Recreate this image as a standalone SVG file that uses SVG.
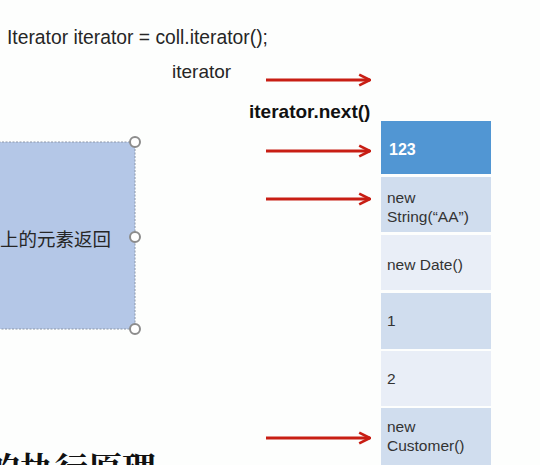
<svg xmlns="http://www.w3.org/2000/svg" width="540" height="465" viewBox="0 0 540 465">
<defs>
<style>
.t{font-family:"Liberation Sans",Arial,sans-serif;fill:#262626}
.c{font-size:15.5px;fill:#333}
.cjk{font-family:"Liberation Sans","Noto Sans CJK SC",sans-serif;fill:#262626}
.arr{stroke:#c81e14;stroke-width:3;fill:none}
.dark{fill:#d0ddee}
.light{fill:#e9eef7}
.h{fill:#fff;stroke:#8c8c8c;stroke-width:2}
</style>
<marker id="ah" viewBox="0 0 10 10" refX="9" refY="5" markerWidth="4.5" markerHeight="4.5" orient="auto" markerUnits="strokeWidth">
<path d="M1,1 L9,5 L1,9" fill="none" stroke="#c81e14" stroke-width="2" stroke-linejoin="miter"/>
</marker>
</defs>
<rect width="540" height="465" fill="#fdfefd"/>
<text class="t" x="7" y="44" font-size="19.3">Iterator iterator = coll.iterator();</text>
<text class="t" x="172" y="78" font-size="19">iterator</text>
<text class="t" x="249" y="118" font-size="19" font-weight="bold" style="fill:#111">iterator.next()</text>
<g id="box">
<rect x="-5" y="142" width="140" height="187" fill="#b4c7e7" stroke="#8c96a8" stroke-width="1" stroke-dasharray="2 1.5"/>
<text class="cjk" x="0" y="246" font-size="18.5">上的元素返回</text>
<circle class="h" cx="135" cy="142" r="5"/>
<circle class="h" cx="135" cy="237" r="5"/>
<circle class="h" cx="135" cy="329" r="5"/>
</g>
<g id="list">
<g id="e1"><rect x="381" y="121" width="110" height="53" fill="#5196d3"/><text class="t" x="389" y="155" font-size="16" font-weight="bold" style="fill:#fff">123</text></g>
<g id="e2"><rect class="dark" x="381" y="177" width="110" height="55"/><text class="t c" x="387" y="203">new</text><text class="t c" x="387" y="222">String(“AA”)</text></g>
<g id="e3"><rect class="light" x="381" y="235" width="110" height="55"/><text class="t c" x="387" y="270">new Date()</text></g>
<g id="e4"><rect class="dark" x="381" y="293" width="110" height="56"/><text class="t c" x="387" y="326">1</text></g>
<g id="e5"><rect class="light" x="381" y="351" width="110" height="55"/><text class="t c" x="387" y="384">2</text></g>
<g id="e6"><rect class="dark" x="381" y="408" width="110" height="57"/><text class="t c" x="387" y="432">new</text><text class="t c" x="387" y="451">Customer()</text></g>
</g>
<g id="connectors">
<line class="arr" x1="266" y1="80" x2="370" y2="80" marker-end="url(#ah)"/>
<line class="arr" x1="266" y1="151" x2="370" y2="151" marker-end="url(#ah)"/>
<line class="arr" x1="266" y1="199" x2="370" y2="199" marker-end="url(#ah)"/>
<line class="arr" x1="266" y1="438" x2="370" y2="438" marker-end="url(#ah)"/>
</g>
<text x="-14" y="482" font-size="34" font-family="'Noto Serif CJK SC','Noto Sans CJK SC',serif" font-weight="bold" fill="#111">的执行原理</text>
</svg>
